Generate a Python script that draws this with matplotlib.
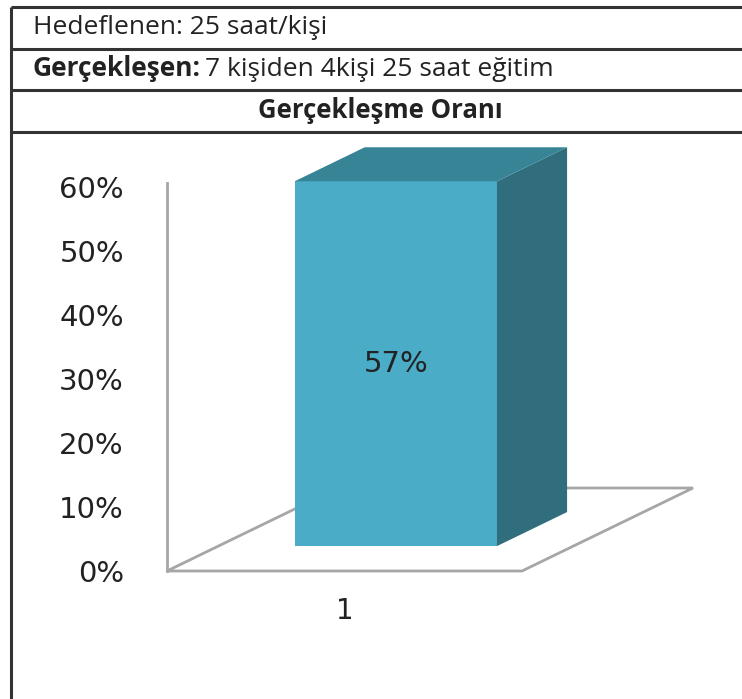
import matplotlib
matplotlib.use("Agg")
import matplotlib.pyplot as plt
from matplotlib.patches import Polygon
from matplotlib.transforms import Affine2D, IdentityTransform
from matplotlib.ticker import PercentFormatter

# data
categories = [1]
values = [0.57]
y_ticks = [0.0, 0.1, 0.2, 0.3, 0.4, 0.5, 0.6]
header_target = "Hedeflenen: 25 saat/kişi"
header_actual_bold = "Gerçekleşen:"
header_actual = "7 kişiden 4kişi 25 saat eğitim"
chart_title = "Gerçekleşme Oranı"

# colours (Excel aqua 3D column)
front_col = "#4aacc6"
top_col = "#378496"
side_col = "#316e7d"
grid_col = "#a6a6a6"
text_col = "#222222"

# depth of the 3D floor in pixels, and where the bar sits in it
depth_dx, depth_dy = 171, 83
z_front, z_back = 0.30, 0.71
bar_width = 0.57

fig = plt.figure(figsize=(7.42, 6.99), dpi=100)
W, H = 742, 699

# ---- header table drawn in pixel coordinates ----
bg = fig.add_axes([0, 0, 1, 1])
bg.set_xlim(0, W)
bg.set_ylim(H, 0)
bg.axis("off")
for yy in [7, 49, 90, 132]:
    bg.plot([11, W], [yy, yy], color="#333333", lw=2.2, solid_capstyle="butt")
bg.plot([11, 11], [7, H], color="#333333", lw=2.2, solid_capstyle="butt")

hfont = "Open Sans"
hsize = 19
bg.text(33, 28, header_target, fontsize=hsize, family=hfont, color=text_col, va="center")
t_bold = bg.text(33, 69, header_actual_bold, fontsize=hsize, family=hfont,
                 weight="bold", color=text_col, va="center")
bg.annotate(header_actual, xy=(1, 0.5), xycoords=t_bold, xytext=(3, 0),
            textcoords="offset points", fontsize=hsize, family=hfont,
            color=text_col, va="center")
bg.text(380, 111, chart_title, fontsize=18.5, family=hfont, weight="bold",
        color=text_col, va="center", ha="center")

# ---- 3D column chart ----
ax = fig.add_axes([167 / W, 128 / H, 355 / W, 384 / H])
ax.set_zorder(2)
ax.set_xlim(0.5, 1.5)
ax.set_ylim(0, 0.6)
ax.patch.set_visible(False)
for s in ["top", "right", "bottom"]:
    ax.spines[s].set_visible(False)
ax.spines["left"].set_color(grid_col)
ax.spines["left"].set_linewidth(2)
ax.spines["left"].set_bounds(0, 0.606)

ax.set_yticks(y_ticks)
ax.yaxis.set_major_formatter(PercentFormatter(1.0, decimals=0))
ax.set_xticks(categories)
ax.set_xticklabels([str(c) for c in categories])
ax.tick_params(axis="y", length=0, pad=31, labelsize=21, labelcolor=text_col)
ax.tick_params(axis="x", length=0, pad=19, labelsize=20, labelcolor=text_col)


def to_px(x, y, z):
    px, py = ax.transData.transform((x, y))
    return (px + z * depth_dx, py + z * depth_dy)


# floor (behind the chart axes)
x0, x1 = ax.get_xlim()
floor = [to_px(x0, 0, 0), to_px(x1, 0, 0), to_px(x1, 0, 1), to_px(x0, 0, 1)]
fig.add_artist(Polygon(floor, closed=True, facecolor="white", edgecolor=grid_col,
                       lw=2, transform=IdentityTransform(), zorder=1))

# bars
shift = Affine2D().translate(z_front * depth_dx, z_front * depth_dy)
for c, v in zip(categories, values):
    bl, br = c - bar_width / 2, c + bar_width / 2
    side = [to_px(br, 0, z_front), to_px(br, v, z_front),
            to_px(br, v, z_back), to_px(br, 0, z_back)]
    top = [to_px(bl, v, z_front), to_px(br, v, z_front),
           to_px(br, v, z_back), to_px(bl, v, z_back)]
    fig.add_artist(Polygon(side, closed=True, facecolor=side_col, edgecolor="none",
                           transform=IdentityTransform(), zorder=3))
    fig.add_artist(Polygon(top, closed=True, facecolor=top_col, edgecolor="none",
                           transform=IdentityTransform(), zorder=3))
    ax.bar([c], [v], width=bar_width, color=front_col, zorder=3,
           transform=ax.transData + shift, clip_on=False)
    cx, cy = to_px(c, v / 2, z_front)
    fig.text(cx / W, cy / H, f"{v:.0%}", fontsize=21, color=text_col,
             ha="center", va="center", zorder=5)

fig.savefig("out.png", dpi=100)
